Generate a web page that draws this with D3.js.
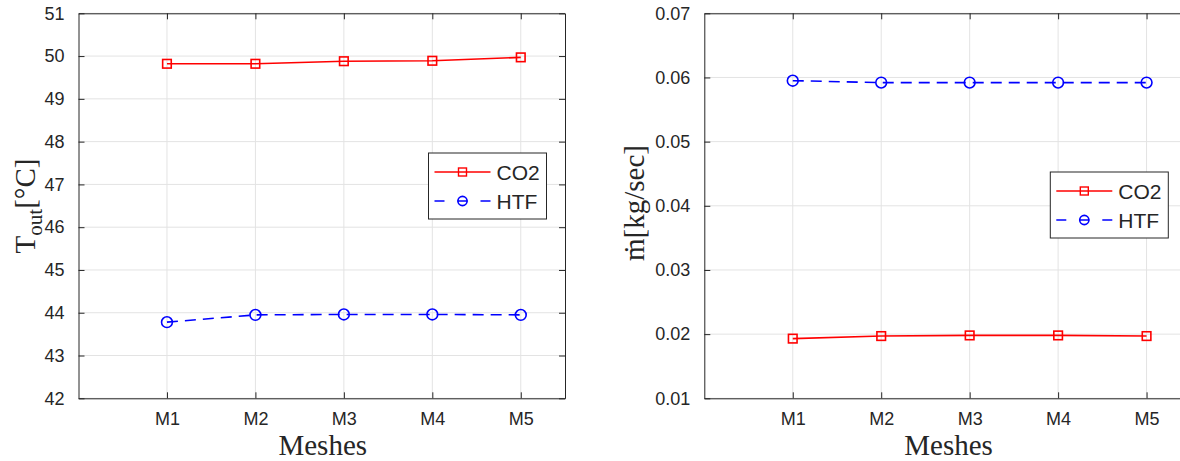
<!DOCTYPE html>
<meta charset="utf-8">
<script src="https://d3js.org/d3.v7.min.js"></script>
<style>
  body { margin: 0; background: #fff; }
  text { font-family: Arial, "Liberation Sans", sans-serif; fill: #262626; }
  .lbl { font-family: "Liberation Serif", "DejaVu Serif", serif; }
</style>
<div id="my_dataviz"></div>
<script>

    // data
    var meshes = ["M1", "M2", "M3", "M4", "M5"];

    var tempCO2 = [49.82, 49.82, 49.88, 49.89, 49.97];
    var tempHTF = [43.78, 43.95, 43.96, 43.96, 43.95];
    var tempTicks = [42, 43, 44, 45, 46, 47, 48, 49, 50, 51];

    var flowCO2 = [0.0193, 0.0197, 0.0198, 0.0198, 0.0197];
    var flowHTF = [0.0595, 0.0592, 0.0592, 0.0592, 0.0592];
    var flowTicks = [0.01, 0.02, 0.03, 0.04, 0.05, 0.06, 0.07];

    var seriesNames = ["CO2", "HTF"];

    var W = 1180, H = 461;
    var plotTop = 13.3, plotBottom = 398.3;
    var plotW = 486.5;

    var svg = d3.select("#my_dataviz")
        .append("svg")
        .attr("width", W)
        .attr("height", H);

    function drawPanel(left, yDomain, yTicks, yFormat, co2, htf, legendPos, ylabel) {
        var g = svg.append("g").attr("transform", "translate(" + left + ",0)");

        var x = d3.scaleLinear().domain([0, 5.5]).range([0, plotW]);
        var y = d3.scaleLinear().domain(yDomain).range([plotBottom, plotTop]);

        // grid
        g.selectAll(".gx").data(meshes).enter().append("line")
            .attr("x1", function(d, i) { return x(i + 1); })
            .attr("x2", function(d, i) { return x(i + 1); })
            .attr("y1", plotTop).attr("y2", plotBottom)
            .attr("stroke", "#e3e3e3").attr("stroke-width", 1);
        g.selectAll(".gy").data(yTicks).enter().append("line")
            .attr("x1", 0).attr("x2", plotW)
            .attr("y1", function(d) { return y(d); })
            .attr("y2", function(d) { return y(d); })
            .attr("stroke", "#e3e3e3").attr("stroke-width", 1);

        // axes (MATLAB style: ticks inside, box on)
        var ax = d3.axisBottom(x).tickValues([1, 2, 3, 4, 5])
            .tickFormat(function(d) { return meshes[d - 1]; })
            .tickSizeInner(-6).tickSizeOuter(0).tickPadding(14);
        g.append("g").attr("transform", "translate(0," + plotBottom + ")").call(ax);

        var axTop = d3.axisTop(x).tickValues([1, 2, 3, 4, 5])
            .tickFormat("").tickSizeInner(-6).tickSizeOuter(0);
        g.append("g").attr("transform", "translate(0," + plotTop + ")").call(axTop);

        var ay = d3.axisLeft(y).tickValues(yTicks).tickFormat(yFormat)
            .tickSizeInner(-6).tickSizeOuter(0).tickPadding(14);
        g.append("g").call(ay);

        var ayR = d3.axisRight(y).tickValues(yTicks).tickFormat("")
            .tickSizeInner(-6).tickSizeOuter(0);
        g.append("g").attr("transform", "translate(" + plotW + ",0)").call(ayR);

        g.selectAll(".domain").attr("stroke", "#262626");
        g.selectAll(".tick line").attr("stroke", "#262626");
        g.selectAll(".tick text").style("font-size", "18px").attr("fill", "#262626");

        // lines
        var line = d3.line()
            .x(function(d, i) { return x(i + 1); })
            .y(function(d) { return y(d); });

        g.append("path").datum(co2)
            .attr("d", line).attr("fill", "none")
            .attr("stroke", "#ff0000").attr("stroke-width", 1.6);
        g.selectAll(".sq").data(co2).enter().append("rect")
            .attr("x", function(d, i) { return x(i + 1) - 4.3; })
            .attr("y", function(d) { return y(d) - 4.3; })
            .attr("width", 8.6).attr("height", 8.6)
            .attr("fill", "none").attr("stroke", "#ff0000").attr("stroke-width", 1.6);

        g.append("path").datum(htf)
            .attr("d", line).attr("fill", "none")
            .attr("stroke", "#0000ff").attr("stroke-width", 1.6)
            .attr("stroke-dasharray", "11,7");
        g.selectAll(".ci").data(htf).enter().append("circle")
            .attr("cx", function(d, i) { return x(i + 1); })
            .attr("cy", function(d) { return y(d); })
            .attr("r", 5.4)
            .attr("fill", "none").attr("stroke", "#0000ff").attr("stroke-width", 1.6);

        // legend
        var lg = g.append("g").attr("transform", "translate(" + legendPos[0] + "," + legendPos[1] + ")");
        lg.append("rect").attr("width", 118).attr("height", 66)
            .attr("fill", "#fff").attr("stroke", "#262626").attr("stroke-width", 1);
        lg.append("line").attr("x1", 6).attr("x2", 62).attr("y1", 19).attr("y2", 19)
            .attr("stroke", "#ff0000").attr("stroke-width", 1.6);
        lg.append("rect").attr("x", 30).attr("y", 15).attr("width", 8).attr("height", 8)
            .attr("fill", "none").attr("stroke", "#ff0000").attr("stroke-width", 1.4);
        lg.append("line").attr("x1", 6).attr("x2", 62).attr("y1", 48).attr("y2", 48)
            .attr("stroke", "#0000ff").attr("stroke-width", 1.6)
            .attr("stroke-dasharray", "10,13");
        lg.append("circle").attr("cx", 34).attr("cy", 48).attr("r", 4.6)
            .attr("fill", "none").attr("stroke", "#0000ff").attr("stroke-width", 1.6);
        lg.selectAll(".lt").data(seriesNames).enter().append("text")
            .attr("x", 68).attr("y", function(d, i) { return 26.5 + i * 29; })
            .style("font-size", "21px").attr("fill", "#000")
            .text(function(d) { return d; });

        // x label
        g.append("text").attr("class", "lbl")
            .attr("x", x(2.75) + 1).attr("y", 455)
            .attr("text-anchor", "middle")
            .style("font-size", "29px")
            .text("Meshes");

        ylabel(g);
    }

    drawPanel(78.5, [42, 51], tempTicks, d3.format("d"), tempCO2, tempHTF, [350, 153], function(g) {
        var t = g.append("text").attr("class", "lbl")
            .attr("transform", "translate(-44,206) rotate(-90)")
            .attr("text-anchor", "middle")
            .style("font-size", "29px");
        t.append("tspan").text("T");
        t.append("tspan").attr("dy", 7).style("font-size", "21px").text("out");
        t.append("tspan").attr("dy", -7).text("[°C]");
    });

    drawPanel(704.3, [0.01, 0.07], flowTicks, d3.format(".2f"), flowCO2, flowHTF, [346, 172], function(g) {
        g.append("text").attr("class", "lbl")
            .attr("transform", "translate(-60,203) rotate(-90)")
            .attr("text-anchor", "middle")
            .style("font-size", "29px")
            .text("ṁ[kg/sec]");
    });

</script>
